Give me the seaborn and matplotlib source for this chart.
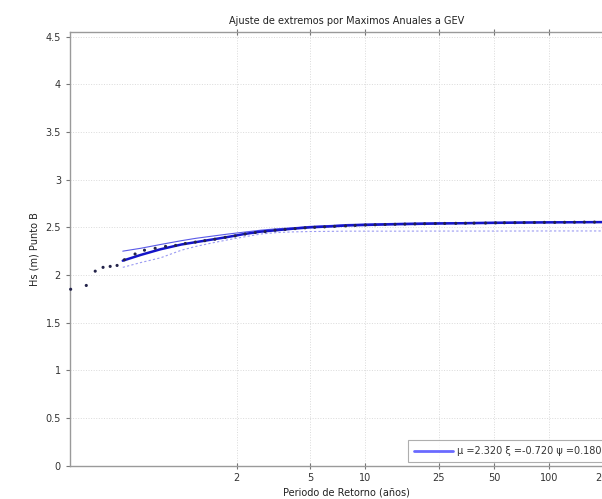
import matplotlib
matplotlib.use("Agg")
import matplotlib.pyplot as plt
import seaborn as sns
import pandas as pd
from matplotlib.ticker import NullLocator, FixedLocator, FixedFormatter

# ---------------- data ----------------
title = "Ajuste de extremos por Maximos Anuales a GEV"
xlabel = "Periodo de Retorno (años)"
ylabel = "Hs (m) Punto B"
legend_label = "μ =2.320 ξ =-0.720 ψ =0.180"

xtick_vals = [2, 5, 10, 25, 50, 100, 200]
xtick_labels = ["2", "5", "10", "25", "50", "100", "200"]
ytick_vals = [0, 0.5, 1, 1.5, 2, 2.5, 3, 3.5, 4, 4.5]
ytick_labels = ["0", "0.5", "1", "1.5", "2", "2.5", "3", "3.5", "4", "4.5"]

T_fit = [0.48, 0.6, 0.77, 1.0, 1.2, 1.5, 1.8, 2.2, 2.7, 3.3, 4, 5, 6.5, 8, 10,
         15, 25, 50, 100, 250]
Hs_fit = [2.15, 2.21, 2.27, 2.32, 2.345, 2.375, 2.40, 2.43, 2.455, 2.47, 2.485,
          2.50, 2.51, 2.52, 2.525, 2.533, 2.54, 2.547, 2.552, 2.556]
Hs_upper = [2.25, 2.28, 2.32, 2.36, 2.385, 2.41, 2.43, 2.45, 2.47, 2.485, 2.495,
            2.51, 2.52, 2.53, 2.535, 2.542, 2.548, 2.553, 2.557, 2.56]
Hs_lower = [2.08, 2.13, 2.18, 2.26, 2.30, 2.34, 2.37, 2.40, 2.43, 2.445, 2.452,
            2.456, 2.458, 2.46, 2.46, 2.46, 2.461, 2.461, 2.462, 2.462]

T_obs = [0.25, 0.304, 0.34, 0.375, 0.41, 0.447,
         0.49, 0.56, 0.63, 0.72, 0.82, 0.93, 1.05, 1.19, 1.34, 1.52, 1.73, 1.96,
         2.22, 2.52, 2.85, 3.23, 3.66, 4.15, 4.70, 5.3, 6.0, 6.8, 7.8, 8.8, 10,
         11.3, 12.8, 14.5, 16.4, 18.6, 21, 24, 27, 31, 35, 39, 45, 51, 57, 65,
         73, 83, 94, 107, 121, 137, 155, 176]
Hs_obs = [1.85, 1.89, 2.04, 2.08, 2.09, 2.10,
          2.16, 2.22, 2.26, 2.28, 2.30, 2.31, 2.33, 2.345, 2.36, 2.375, 2.395, 2.41,
          2.43, 2.445, 2.455, 2.47, 2.478, 2.487, 2.495, 2.50, 2.505, 2.51, 2.515,
          2.52, 2.525, 2.527, 2.53, 2.532, 2.534, 2.536, 2.538, 2.54, 2.541, 2.542,
          2.543, 2.544, 2.545, 2.547, 2.548, 2.549, 2.55, 2.551, 2.552, 2.552,
          2.553, 2.554, 2.555, 2.555]

# ---------------- figure ----------------
sns.set_style("ticks")
plt.rcParams["font.family"] = ["DejaVu Sans"]

fig = plt.figure(figsize=(6.02, 4.99), dpi=100)
# axes extends past the right edge of the figure (cropped like the reference)
ax = fig.add_axes([0.1163, 0.0671, 0.9178, 0.8687])

df_fit = pd.DataFrame({"T": T_fit, "fit": Hs_fit, "up": Hs_upper, "lo": Hs_lower})
df_obs = pd.DataFrame({"T": T_obs, "Hs": Hs_obs})

blue = "#1414c8"
sns.lineplot(data=df_fit, x="T", y="up", ax=ax, color="#5a5ae8", lw=0.8,
             sort=False, estimator=None)
sns.lineplot(data=df_fit, x="T", y="lo", ax=ax, color="#9a9af2", lw=0.8,
             linestyle=(0, (2, 2)), sort=False, estimator=None)
sns.lineplot(data=df_fit, x="T", y="fit", ax=ax, color=blue, lw=1.8,
             sort=False, estimator=None, label=legend_label)
sns.scatterplot(data=df_obs, x="T", y="Hs", ax=ax, color="#23234a", s=5,
                edgecolor="none", zorder=5, clip_on=False)

ax.set_xscale("log")
ax.set_xlim(0.248, 250)
ax.set_ylim(0, 4.55)
ax.xaxis.set_major_locator(FixedLocator(xtick_vals))
ax.xaxis.set_major_formatter(FixedFormatter(xtick_labels))
ax.xaxis.set_minor_locator(NullLocator())
ax.set_yticks(ytick_vals)
ax.set_yticklabels(ytick_labels)

ax.grid(True, color="#dadada", linestyle=":", linewidth=0.7)
for side in ["left", "bottom", "top", "right"]:
    ax.spines[side].set_visible(True)
    ax.spines[side].set_color("#9a9a9a")
    ax.spines[side].set_linewidth(1.0)
ax.tick_params(axis="both", which="major", labelsize=7, colors="#777777",
               labelcolor="#333333", direction="out", length=3, width=0.8)
ax.tick_params(axis="x", which="major", top=True, direction="inout", length=4)

ax.set_title(title, fontsize=7, color="#222222", pad=6)
ax.set_xlabel(xlabel, fontsize=7, color="#222222", labelpad=3)
ax.set_ylabel(ylabel, fontsize=7, color="#222222", labelpad=4)

leg = ax.legend(loc="lower left", bbox_to_anchor=(408 / 602, 37 / 499),
                bbox_transform=fig.transFigure, fontsize=7, frameon=True,
                fancybox=False, handlelength=4.0, borderpad=0.6,
                handletextpad=0.4, borderaxespad=0)
leg.get_frame().set_edgecolor("#9a9a9a")
leg.get_frame().set_linewidth(0.8)
for t in leg.get_texts():
    t.set_color("#333333")
for h in leg.get_lines():
    h.set_color("#6a6aff")
    h.set_linewidth(2.0)

fig.savefig("out.png", dpi=100)
